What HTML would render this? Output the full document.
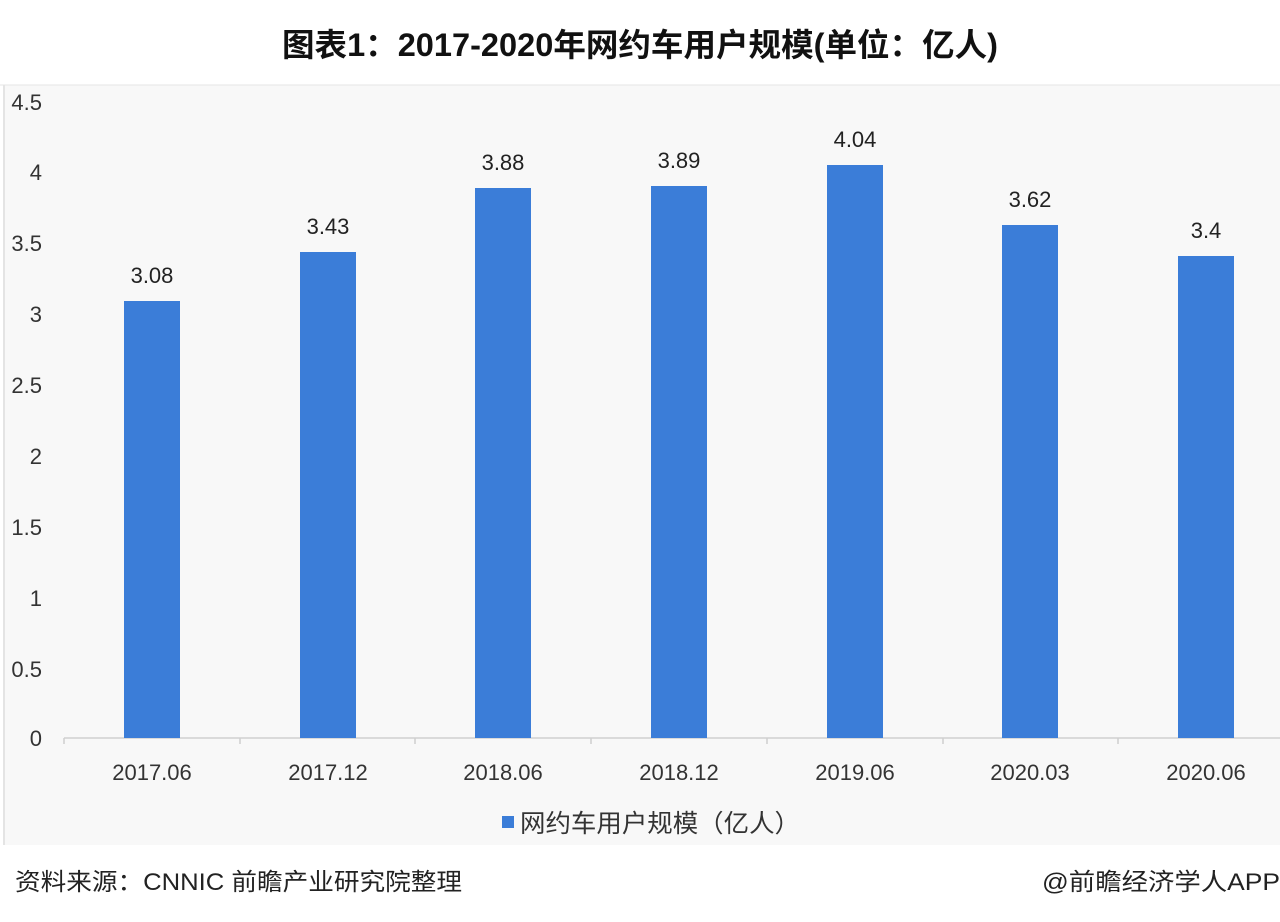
<!DOCTYPE html>
<html><head><meta charset="utf-8"><style>
html,body{margin:0;padding:0;background:#fff;}
svg{display:block;}
text{font-family:"Liberation Sans","Noto Sans CJK SC",sans-serif;}
</style></head><body>
<svg width="1280" height="922" viewBox="0 0 1280 922">
<rect x="0" y="0" width="1280" height="922" fill="#ffffff"/>
<rect x="4" y="85" width="1276" height="760" fill="#f8f8f8"/>
<line x1="0" y1="85" x2="1280" y2="85" stroke="#e6e6e6" stroke-width="1"/>
<line x1="4" y1="85" x2="4" y2="845" stroke="#e4e4e4" stroke-width="2"/>
<text x="640" y="56" text-anchor="middle" font-size="32" font-weight="bold" fill="#111" textLength="716" lengthAdjust="spacingAndGlyphs">图表1：2017-2020年网约车用户规模(单位：亿人)</text>
<g font-size="22" fill="#333" text-anchor="end">
<text x="42" y="110">4.5</text>
<text x="42" y="180">4</text>
<text x="42" y="251">3.5</text>
<text x="42" y="322">3</text>
<text x="42" y="393">2.5</text>
<text x="42" y="464">2</text>
<text x="42" y="535">1.5</text>
<text x="42" y="606">1</text>
<text x="42" y="677">0.5</text>
<text x="42" y="746">0</text>
</g>
<line x1="64" y1="738" x2="1280" y2="738" stroke="#cfcfcf" stroke-width="1.5"/>
<g stroke="#cfcfcf" stroke-width="1.5">
<line x1="64" y1="738" x2="64" y2="744"/><line x1="240" y1="738" x2="240" y2="744"/><line x1="415" y1="738" x2="415" y2="744"/><line x1="591" y1="738" x2="591" y2="744"/><line x1="767" y1="738" x2="767" y2="744"/><line x1="943" y1="738" x2="943" y2="744"/><line x1="1118" y1="738" x2="1118" y2="744"/>
</g>
<g fill="#3b7dd8">
<rect x="124" y="301" width="56" height="437"/>
<rect x="300" y="252" width="56" height="486"/>
<rect x="475" y="188" width="56" height="550"/>
<rect x="651" y="186" width="56" height="552"/>
<rect x="827" y="165" width="56" height="573"/>
<rect x="1002" y="225" width="56" height="513"/>
<rect x="1178" y="256" width="56" height="482"/>
</g>
<g font-size="22" fill="#222" text-anchor="middle">
<text x="152" y="283">3.08</text>
<text x="328" y="234">3.43</text>
<text x="503" y="170">3.88</text>
<text x="679" y="168">3.89</text>
<text x="855" y="147">4.04</text>
<text x="1030" y="207">3.62</text>
<text x="1206" y="238">3.4</text>
</g>
<g font-size="22" fill="#333" text-anchor="middle">
<text x="152" y="780">2017.06</text>
<text x="328" y="780">2017.12</text>
<text x="503" y="780">2018.06</text>
<text x="679" y="780">2018.12</text>
<text x="855" y="780">2019.06</text>
<text x="1030" y="780">2020.03</text>
<text x="1206" y="780">2020.06</text>
</g>
<rect x="502" y="816" width="12" height="12" fill="#3b7dd8"/>
<text x="520" y="832" font-size="25" fill="#333" textLength="280" lengthAdjust="spacingAndGlyphs">网约车用户规模（亿人）</text>
<text x="15" y="890" font-size="24" fill="#222" textLength="447" lengthAdjust="spacingAndGlyphs">资料来源：CNNIC 前瞻产业研究院整理</text>
<text x="1280" y="890" font-size="24" fill="#222" text-anchor="end" textLength="238" lengthAdjust="spacingAndGlyphs">@前瞻经济学人APP</text>
</svg>
</body></html>
